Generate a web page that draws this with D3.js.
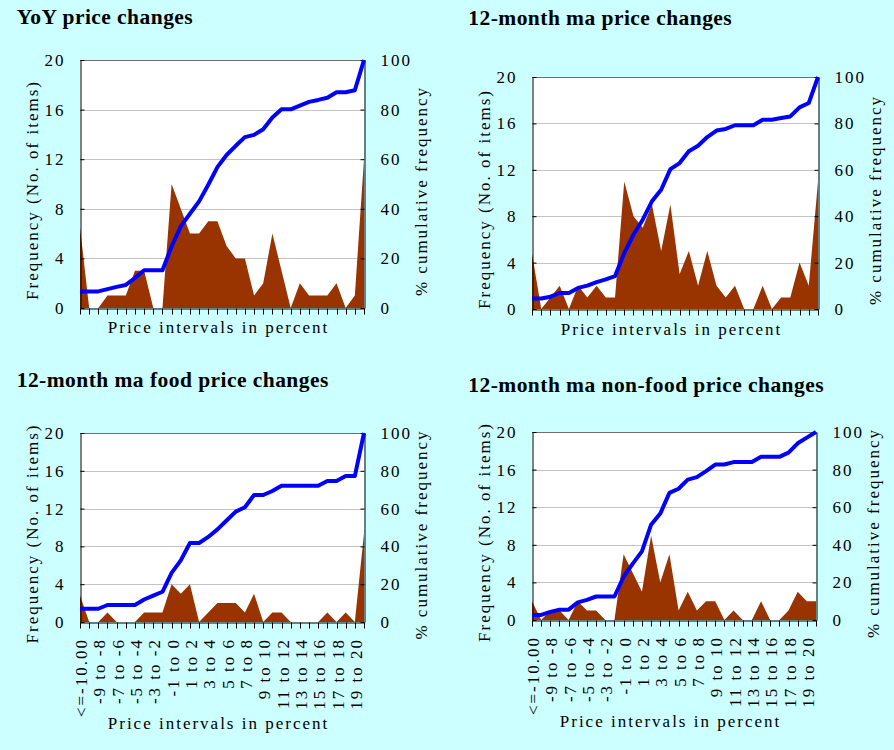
<!DOCTYPE html>
<html><head><meta charset="utf-8">
<script src="https://cdn.jsdelivr.net/npm/d3@7"></script>
<style>
html,body{margin:0;padding:0;background:#CCFFFF;}
svg{display:block;}
text{font-family:"Liberation Serif","Times New Roman",serif;fill:#000;}
</style></head><body>
<svg id="c" width="894" height="750"></svg>
<script>
// ---------- data ----------
const categories = ["<=-10.00","-10 to -9","-9 to -8","-8 to -7","-7 to -6","-6 to -5","-5 to -4","-4 to -3","-3 to -2","-2 to -1","-1 to 0","0 to 1","1 to 2","2 to 3","3 to 4","4 to 5","5 to 6","6 to 7","7 to 8","8 to 9","9 to 10","10 to 11","11 to 12","12 to 13","13 to 14","14 to 15","15 to 16","16 to 17","17 to 18","18 to 19","19 to 20",">20"];
const freqTicks = [0,4,8,12,16,20];
const cumTicks = [0,20,40,60,80,100];
const panelTitles = ["YoY price changes","12-month ma price changes","12-month ma food price changes","12-month ma non-food price changes"];
const yTitleLeft = "Frequency (No. of items)";
const yTitleRight = "% cumulative frequency";
const xTitle = "Price intervals in percent";

const yoyFreq = [6.5,0,0,1,1,1,3,3,0,0,10,8,6,6,7,7,5,4,4,1,2,6,3,0,2,1,1,1,2,0,1,12];
const yoyCum  = [6.7,6.7,6.7,7.6,8.5,9.3,12.1,15.2,15.2,15.2,24.8,32.9,38,43,49.7,56.8,61.7,65.4,68.9,69.8,72.1,76.8,80.1,80.1,81.6,83.1,83.9,84.8,87,87,87.8,100];

const maFreq = [4.8,0,1,2,0,2,1,2,1,1,11,8,7,9,5,9,3,5,2,5,2,1,2,0,0,2,0,1,1,4,2,11];
const maCum  = [4.5,4.5,5.3,6.9,6.9,9.1,10.1,11.6,12.8,14.2,24.1,32,38.5,46.4,51.4,60.3,62.9,68,70.4,74.1,76.9,77.6,79.2,79.2,79.2,81.6,81.6,82.3,83,86.9,88.8,100];

const foodFreq = [2.8,0,0,1,0,0,0,1,1,1,4,3,4,0,1,2,2,2,1,3,0,1,1,0,0,0,0,1,0,1,0,9.4];
const foodCum  = [7,7,7,9,9,9,9,11.9,14,16,26,32.6,41.8,41.8,45,49,53.7,58.4,60.7,67.2,67.2,69.3,72.1,72.1,72.1,72.1,72.1,74.6,74.6,77.2,77.2,100];

const nonFoodFreq = [2,0,1,1,0,2,1,1,0,0,7,5,3,9,4,7,1,3,1,2,2,0,1,0,0,2,0,0,1,3,2,2];
const nonFoodCum  = [2.7,2.7,4.3,5.5,5.5,9.4,10.7,12.5,12.5,12.5,23,30,36.5,50.7,56.6,67.6,69.8,74.7,76,79.2,82.7,82.7,84,84,84,86.8,86.8,86.8,89,94,97,100];

// ---------- layout ----------
const panels = [
  {title:panelTitles[0], freq:yoyFreq, cum:yoyCum, left:80, right:364, top:60, bottom:308, tx:16.7, ty:24, labels:false, xtb:333},
  {title:panelTitles[1], freq:maFreq, cum:maCum, left:532, right:818, top:77, bottom:309, tx:468.3, ty:25, labels:false, xtb:335},
  {title:panelTitles[2], freq:foodFreq, cum:foodCum, left:80, right:364, top:433, bottom:622, tx:16.7, ty:386.7, labels:true, xtb:729},
  {title:panelTitles[3], freq:nonFoodFreq, cum:nonFoodCum, left:532, right:816, top:432, bottom:620, tx:468.3, ty:391.7, labels:true, xtb:727}
];

const svg = d3.select("#c");
svg.append("rect").attr("width",894).attr("height",750).attr("fill","#CCFFFF");

const FS = 17, LS = 2;

function drawPanel(p){
  const g = svg.append("g");
  const x = d3.scalePoint().domain(categories).range([p.left, p.right]);
  const yF = d3.scaleLinear().domain([0,20]).range([p.bottom, p.top]);
  const yC = d3.scaleLinear().domain([0,100]).range([p.bottom, p.top]);

  g.append("text").attr("x",p.tx).attr("y",p.ty)
    .style("font-size","21.5px").style("font-weight","bold").style("letter-spacing","0.45px")
    .text(p.title);

  g.append("rect").attr("x",p.left).attr("y",p.top)
    .attr("width",p.right-p.left).attr("height",p.bottom-p.top).attr("fill","#fff");

  g.selectAll("line.grid").data(freqTicks.filter(t=>t>0 && t<20)).join("line")
    .attr("class","grid")
    .attr("x1",p.left).attr("x2",p.right)
    .attr("y1",d=>Math.round(yF(d))+0.5).attr("y2",d=>Math.round(yF(d))+0.5)
    .attr("stroke","#c4c4c4").attr("stroke-width",1);

  const area = d3.area()
    .x((d,i)=>x(categories[i]))
    .y0(yF(0)).y1(d=>yF(d));
  g.append("path").datum(p.freq).attr("d",area).attr("fill","#993300");

  // top border
  g.append("line").attr("x1",p.left).attr("x2",p.right)
    .attr("y1",p.top+0.5).attr("y2",p.top+0.5).attr("stroke","#707070");

  // axes
  const la = g.append("g").attr("transform",`translate(${p.left+0.5},0)`)
    .call(d3.axisLeft(yF).tickValues(freqTicks).tickSizeInner(-4).tickSizeOuter(0).tickPadding(15));
  const ra = g.append("g").attr("transform",`translate(${p.right+0.5},0)`)
    .call(d3.axisRight(yC).tickValues(cumTicks).tickSizeInner(-4).tickSizeOuter(0).tickPadding(16));
  const ba = g.append("g").attr("transform",`translate(0,${p.bottom+0.5})`)
    .call(d3.axisBottom(x).tickSizeInner(6).tickSizeOuter(0)
      .tickFormat((d,i)=> (p.labels && i%2===0) ? d : ""));
  [la,ra,ba].forEach(a=>{
    a.select(".domain").attr("stroke","#000");
    a.selectAll(".tick line").attr("stroke","#000");
    a.selectAll("text").style("font-family",'"Liberation Serif","Times New Roman",serif')
      .style("font-size",FS+"px").style("letter-spacing",LS+"px").attr("fill","#000");
  });
  ba.selectAll(".tick").attr("transform",d=>`translate(${Math.round(x(d))+0.5},0)`);
  ba.selectAll("text").attr("transform","rotate(-90)")
    .attr("text-anchor","end").attr("x",-15.5).attr("y",6.5).attr("dy","0");

  const line = d3.line()
    .x((d,i)=>x(categories[i]))
    .y(d=>yC(d));
  g.append("path").datum(p.cum).attr("d",line).attr("fill","none")
    .attr("stroke","#0000ff").attr("stroke-width",4).attr("stroke-linejoin","round");

  const mid = (p.top+p.bottom)/2;
  g.append("text").attr("transform",`translate(${p.left-42},${mid+6}) rotate(-90)`)
    .attr("text-anchor","middle").style("font-size",FS+"px").style("letter-spacing",LS+"px")
    .text(yTitleLeft);
  g.append("text").attr("transform",`translate(${p.right+63},${mid+7}) rotate(-90)`)
    .attr("text-anchor","middle").style("font-size",FS+"px").style("letter-spacing",LS+"px")
    .text(yTitleRight);
  g.append("text").attr("x",(p.left+p.right)/2-3.5).attr("y",p.xtb)
    .attr("text-anchor","middle").style("font-size",FS+"px").style("letter-spacing",LS+"px")
    .text(xTitle);
}
panels.forEach(drawPanel);
</script>
</body></html>
